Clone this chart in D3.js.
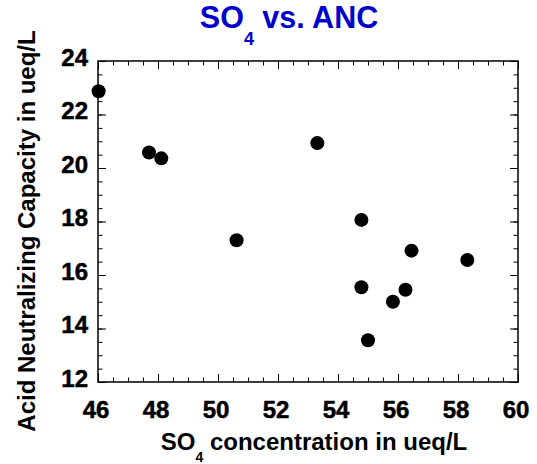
<!DOCTYPE html>
<html><head><meta charset="utf-8">
<script src="https://cdn.jsdelivr.net/npm/d3@7"></script>
<style>
body{margin:0;background:#fff;}
text{font-family:"Liberation Sans",Arial,sans-serif;font-weight:700;}
</style></head>
<body><svg id="c" width="537" height="464"></svg>
<script>
const so4 = [46.02, 47.70, 48.11, 50.62, 53.31, 54.78, 54.78, 55.00, 55.83, 56.25, 56.45, 58.31];
const anc = [22.87, 20.58, 20.36, 17.30, 20.93, 18.06, 15.54, 13.56, 15.00, 15.45, 16.91, 16.56];
const xMajor = [46, 48, 50, 52, 54, 56, 58, 60];
const yMajor = [12, 14, 16, 18, 20, 22, 24];
const xDomain = [46, 60];
const yDomain = [12, 24];

const svg = d3.select("#c");
const L = 98, R = 518, T = 61, B = 382;
const x = d3.scaleLinear().domain(xDomain).range([L, R]);
const y = d3.scaleLinear().domain(yDomain).range([B, T]);
const xMinor = d3.range(xDomain[0], xDomain[1] + 0.001, 0.5);
const yMinor = d3.range(yDomain[0], yDomain[1] + 0.001, 0.5);

function tickGroup(axisFn, scale, vals, size, tr) {
  const g = svg.append("g").attr("transform", tr)
    .call(axisFn(scale).tickValues(vals).tickSize(size).tickFormat(""));
  g.select(".domain").remove();
  g.selectAll("line").attr("stroke", "#000").attr("stroke-width", 1);
  return g;
}
tickGroup(d3.axisBottom, x, xMinor, -4.5, `translate(0,${B})`);
tickGroup(d3.axisBottom, x, xMajor, -8, `translate(0,${B})`);
tickGroup(d3.axisTop, x, xMinor, -4.5, `translate(0,${T})`);
tickGroup(d3.axisTop, x, xMajor, -8, `translate(0,${T})`);
tickGroup(d3.axisLeft, y, yMinor, -4.5, `translate(${L},0)`);
tickGroup(d3.axisLeft, y, yMajor, -8, `translate(${L},0)`);
tickGroup(d3.axisRight, y, yMinor, -4.5, `translate(${R},0)`);
tickGroup(d3.axisRight, y, yMajor, -8, `translate(${R},0)`);

svg.append("rect").attr("x", L).attr("y", T).attr("width", R - L).attr("height", B - T)
  .attr("fill", "none").attr("stroke", "#000").attr("stroke-width", 1.5);

svg.append("g").selectAll("text").data(xMajor).join("text")
  .attr("x", d => x(d) - 2).attr("y", 418).attr("text-anchor", "middle")
  .attr("font-size", 24).attr("font-weight", "bold").attr("fill", "#000")
  .attr("stroke", "#000").attr("stroke-width", 0.5).text(d => d);
svg.append("g").selectAll("text").data(yMajor).join("text")
  .attr("x", 88).attr("y", d => y(d) + 4.5).attr("text-anchor", "end")
  .attr("font-size", 24).attr("font-weight", "bold").attr("fill", "#000")
  .attr("stroke", "#000").attr("stroke-width", 0.5).text(d => d);

svg.append("g").selectAll("circle").data(so4.map((v, i) => [v, anc[i]])).join("circle")
  .attr("cx", d => x(d[0])).attr("cy", d => y(d[1])).attr("r", 7).attr("fill", "#000");

const t = svg.append("text").attr("x", 289).attr("y", 28).attr("text-anchor", "middle")
  .attr("font-size", 30.5).attr("font-weight", "bold").attr("fill", "#0000cc");
t.append("tspan").text("SO");
t.append("tspan").attr("font-size", 18).attr("dy", 17).text("4");
t.append("tspan").attr("dy", -17).text(" vs. ANC");

const xt = svg.append("text").attr("x", 314).attr("y", 450).attr("text-anchor", "middle")
  .attr("font-size", 24).attr("font-weight", "bold").attr("fill", "#000");
xt.append("tspan").text("SO");
xt.append("tspan").attr("font-size", 14).attr("dy", 12).text("4");
xt.append("tspan").attr("dy", -12).text(" concentration in ueq/L");

svg.append("text").attr("transform", "translate(35,231) rotate(-90)")
  .attr("text-anchor", "middle").attr("font-size", 24).attr("font-weight", "bold").attr("fill", "#000")
  .text("Acid Neutralizing Capacity in ueq/L");
</script></body></html>
